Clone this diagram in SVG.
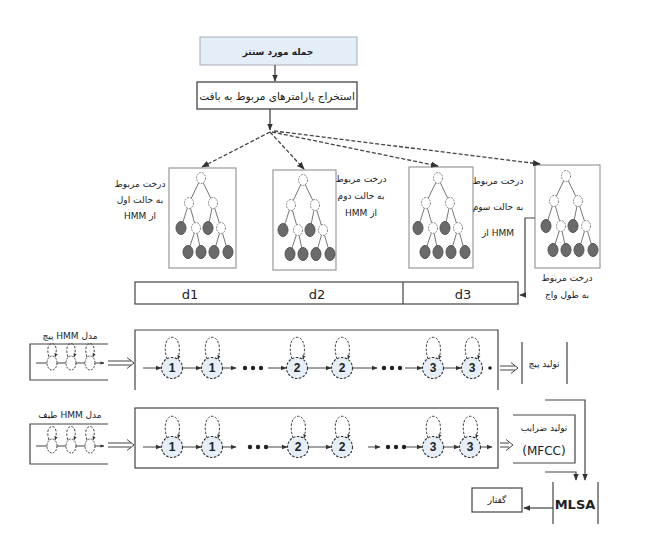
<svg xmlns="http://www.w3.org/2000/svg" xmlns:xlink="http://www.w3.org/1999/xlink" width="652" height="550" viewBox="0 0 652 550">
<style>
text{font-family:"DejaVu Sans","Noto Sans",sans-serif;fill:#222}
.fa{font-size:9px}
.ln{fill:none;stroke:#444;stroke-width:1.2}
.dash{fill:none;stroke:#444;stroke-width:1.3;stroke-dasharray:4,2}
.tbox{fill:#fff;stroke:#999;stroke-width:1.2}
.st{fill:#e6eff8;stroke:#333;stroke-width:1.1;stroke-dasharray:2.5,1.5}
.num{font-family:"Liberation Sans",Arial,sans-serif;font-size:12px;font-weight:bold;text-anchor:middle}
.loop{fill:none;stroke:#444;stroke-width:1;stroke-dasharray:2.5,1.5}
.dot{fill:#222}
.on{fill:#fff;stroke:#888;stroke-width:1;stroke-dasharray:2,1}
.off{fill:#6a6a6a;stroke:#555;stroke-width:1}
.edge{stroke:#777;stroke-width:1;fill:none}
</style>
<defs>
<marker id="ah" viewBox="0 0 10 10" refX="9" refY="5" markerWidth="6" markerHeight="6" orient="auto"><path d="M0,1 L10,5 L0,9 z" fill="#333"/></marker>
<marker id="ahs" viewBox="0 0 10 10" refX="9" refY="5" markerWidth="4" markerHeight="4" orient="auto"><path d="M0,1 L10,5 L0,9 z" fill="#333"/></marker>
<g id="tree">
<path class="edge" d="M32,10 L20,35 M32,10 L44,35 M20,35 L12,60 M20,35 L27,60 M44,35 L39,60 M44,35 L52,60 M27,60 L19,84 M27,60 L32,84 M52,60 L45,84 M52,60 L59,84"/>
<ellipse class="on" cx="32" cy="10" rx="4.5" ry="5.5"/>
<ellipse class="on" cx="20" cy="35" rx="4.5" ry="5.5"/>
<ellipse class="on" cx="44" cy="35" rx="4.5" ry="5.5"/>
<ellipse class="off" cx="12" cy="60" rx="5" ry="6.5"/>
<ellipse class="on" cx="27" cy="60" rx="4.5" ry="5.5"/>
<ellipse class="off" cx="39" cy="60" rx="5" ry="6.5"/>
<ellipse class="on" cx="52" cy="60" rx="4.5" ry="5.5"/>
<ellipse class="off" cx="19" cy="84" rx="5" ry="6.5"/>
<ellipse class="off" cx="32" cy="84" rx="5" ry="6.5"/>
<ellipse class="off" cx="45" cy="84" rx="5" ry="6.5"/>
<ellipse class="off" cx="59" cy="84" rx="5" ry="6.5"/>
</g>
<path id="lp" class="loop" d="M-5,-9 C-14,-38 14,-38 6,-9" marker-end="url(#ahs)"/>
<g id="mini">
<path class="loop" d="M-3,-6 C-9,-24 9,-24 3,-6" marker-end="url(#ahs)"/>
<ellipse cx="0" cy="0" rx="5" ry="7" fill="#fff" stroke="#444" stroke-width="1" stroke-dasharray="2,1.2"/>
</g>
</defs>

<g id="sentence">
<rect x="200" y="37" width="157" height="28" fill="#e4eef8" stroke="#aab" stroke-width="1"/>
<text x="278" y="55" class="fa" font-weight="bold" text-anchor="middle" direction="rtl">جمله مورد سنتز</text>
</g>
<g id="extract">
<rect x="197" y="82" width="160" height="27" fill="#fff" stroke="#444" stroke-width="1.3"/>
<text x="277" y="100" font-size="10.5" text-anchor="middle" direction="rtl">استخراج پارامترهای مربوط به بافت</text>
</g>

<g id="tree1">
<rect class="tbox" x="169" y="168" width="67" height="100"/>
<use href="#tree" x="169" y="168"/>
<text class="fa" font-size="8" x="140" y="187" text-anchor="middle" direction="rtl">درخت مربوط</text>
<text class="fa" font-size="8" x="140" y="203" text-anchor="middle" direction="rtl">به حالت اول</text>
<text class="fa" font-size="8" x="140" y="219" text-anchor="middle" direction="rtl">از HMM</text>
</g>
<g id="tree2">
<rect class="tbox" x="273" y="170" width="63" height="100"/>
<use href="#tree" x="271" y="170"/>
<text class="fa" font-size="7.5" x="361" y="182" text-anchor="middle" direction="rtl">درخت مربوط</text>
<text class="fa" font-size="7.5" x="361" y="199" text-anchor="middle" direction="rtl">به حالت دوم</text>
<text class="fa" font-size="7.5" x="361" y="216" text-anchor="middle" direction="rtl">از HMM</text>
</g>
<g id="tree3">
<rect class="tbox" x="409" y="167" width="64" height="101"/>
<use href="#tree" x="406" y="168"/>
<text class="fa" font-size="8" x="498" y="184" text-anchor="middle" direction="rtl">درخت مربوط</text>
<text class="fa" font-size="8" x="498" y="210" text-anchor="middle" direction="rtl">به حالت سوم</text>
<text class="fa" font-size="8" x="498" y="236" text-anchor="middle">از HMM</text>
</g>
<g id="tree4">
<rect class="tbox" x="535" y="165" width="65" height="103"/>
<use href="#tree" x="534" y="166"/>
<text class="fa" font-size="8" x="567" y="281" text-anchor="middle" direction="rtl">درخت مربوط</text>
<text class="fa" font-size="8" x="567" y="298" text-anchor="middle" direction="rtl">به طول واج</text>
</g>

<g id="durbar">
<rect x="135" y="282" width="383" height="22" fill="#fff" stroke="#444" stroke-width="1.2"/>
<line x1="403" y1="282" x2="403" y2="304" stroke="#444" stroke-width="1.2"/>
<text x="190" y="299" font-family="Liberation Sans,Arial,sans-serif" font-size="13" text-anchor="middle">d1</text>
<text x="317" y="299" font-family="Liberation Sans,Arial,sans-serif" font-size="13" text-anchor="middle">d2</text>
<text x="463" y="299" font-family="Liberation Sans,Arial,sans-serif" font-size="13" text-anchor="middle">d3</text>
</g>

<g id="pitchmodel">
<text class="fa" x="70" y="339" text-anchor="middle" direction="rtl">مدل HMM پیچ</text>
<path class="ln" d="M108,344 H30 V380 H108"/>
<line x1="36" y1="363" x2="104" y2="363" stroke="#444" stroke-width="1" marker-end="url(#ahs)"/>
<use href="#mini" x="52" y="363"/><use href="#mini" x="71" y="363"/><use href="#mini" x="90" y="363"/>
</g>
<g id="specmodel">
<text class="fa" x="70" y="418" text-anchor="middle" direction="rtl">مدل HMM طیف</text>
<path class="ln" d="M108,424 H30 V464 H108"/>
<line x1="36" y1="446" x2="104" y2="446" stroke="#444" stroke-width="1" marker-end="url(#ahs)"/>
<use href="#mini" x="52" y="446"/><use href="#mini" x="71" y="446"/><use href="#mini" x="90" y="446"/>
</g>

<g id="pitchchain">
<path class="ln" d="M135,390 V330 H498 V390"/>
<g stroke="#444" stroke-width="1" marker-end="url(#ah)">
<line x1="143" y1="368" x2="161" y2="368"/><line x1="182" y1="368" x2="201" y2="368"/><line x1="222" y1="368" x2="236" y2="368"/>
<line x1="268" y1="368" x2="286" y2="368"/><line x1="307" y1="368" x2="331" y2="368"/><line x1="352" y1="368" x2="377" y2="368"/>
<line x1="405" y1="368" x2="422" y2="368"/><line x1="443" y1="368" x2="461" y2="368"/>
</g>
<circle class="dot" cx="245" cy="368" r="2.2"/><circle class="dot" cx="253" cy="368" r="2.2"/><circle class="dot" cx="261" cy="368" r="2.2"/>
<circle class="dot" cx="384" cy="368" r="2.2"/><circle class="dot" cx="392" cy="368" r="2.2"/><circle class="dot" cx="400" cy="368" r="2.2"/>
<circle class="dot" cx="490" cy="368" r="1.8"/>
<use href="#lp" x="172" y="368"/><use href="#lp" x="212" y="368"/><use href="#lp" x="297" y="368"/><use href="#lp" x="342" y="368"/><use href="#lp" x="433" y="368"/><use href="#lp" x="472" y="368"/>
<circle class="st" cx="172" cy="368" r="10.5"/><circle class="st" cx="212" cy="368" r="10.5"/><circle class="st" cx="297" cy="368" r="10.5"/><circle class="st" cx="342" cy="368" r="10.5"/><circle class="st" cx="433" cy="368" r="10.5"/><circle class="st" cx="472" cy="368" r="10.5"/>
<text class="num" x="172" y="372">1</text><text class="num" x="212" y="372">1</text><text class="num" x="297" y="372">2</text><text class="num" x="342" y="372">2</text><text class="num" x="433" y="372">3</text><text class="num" x="472" y="372">3</text>
</g>

<g id="specchain">
<rect x="135" y="408" width="363" height="60" fill="none" stroke="#444" stroke-width="1.2"/>
<g stroke="#444" stroke-width="1" marker-end="url(#ah)">
<line x1="143" y1="447" x2="161" y2="447"/><line x1="182" y1="447" x2="201" y2="447"/><line x1="222" y1="447" x2="236" y2="447"/>
<line x1="268" y1="447" x2="287" y2="447"/><line x1="308" y1="447" x2="331" y2="447"/><line x1="368" y1="447" x2="380" y2="447"/>
<line x1="405" y1="447" x2="422" y2="447"/><line x1="443" y1="447" x2="459" y2="447"/><line x1="480" y1="447" x2="492" y2="447"/>
</g>
<circle class="dot" cx="250" cy="447" r="2.2"/><circle class="dot" cx="258" cy="447" r="2.2"/><circle class="dot" cx="266" cy="447" r="2.2"/>
<circle class="dot" cx="388" cy="447" r="2.2"/><circle class="dot" cx="396" cy="447" r="2.2"/><circle class="dot" cx="404" cy="447" r="2.2"/>
<use href="#lp" x="172" y="447"/><use href="#lp" x="212" y="447"/><use href="#lp" x="298" y="447"/><use href="#lp" x="342" y="447"/><use href="#lp" x="433" y="447"/><use href="#lp" x="470" y="447"/>
<circle class="st" cx="172" cy="447" r="10.5"/><circle class="st" cx="212" cy="447" r="10.5"/><circle class="st" cx="298" cy="447" r="10.5"/><circle class="st" cx="342" cy="447" r="10.5"/><circle class="st" cx="433" cy="447" r="10.5"/><circle class="st" cx="470" cy="447" r="10.5"/>
<text class="num" x="172" y="451">1</text><text class="num" x="212" y="451">1</text><text class="num" x="298" y="451">2</text><text class="num" x="342" y="451">2</text><text class="num" x="433" y="451">3</text><text class="num" x="470" y="451">3</text>
</g>

<g id="pitchgen">
<path class="ln" d="M522,342 V384 M567,342 V384"/>
<text class="fa" x="544" y="367" text-anchor="middle" direction="rtl">تولید پیچ</text>
</g>
<g id="mfcc">
<path class="ln" d="M513,415 H575 V463 H513"/>
<text class="fa" x="544" y="431" text-anchor="middle" direction="rtl">تولید ضرایب</text>
<text x="544" y="455" font-family="Liberation Sans,Arial,sans-serif" font-size="12" text-anchor="middle">(MFCC)</text>
</g>
<g id="mlsa">
<path class="ln" d="M553,482 V524 M598,482 V524"/>
<text x="575" y="509" font-family="Liberation Sans,Arial,sans-serif" font-size="13" font-weight="bold" text-anchor="middle">MLSA</text>
</g>
<g id="speech">
<rect x="472" y="488" width="50" height="24" fill="#fff" stroke="#444" stroke-width="1.2"/>
<text class="fa" x="497" y="503" text-anchor="middle">گفتار</text>
</g>

<g id="connectors">
<line x1="275" y1="65" x2="275" y2="81" stroke="#333" stroke-width="1.2" marker-end="url(#ah)"/>
<line x1="270" y1="109" x2="270" y2="130" stroke="#333" stroke-width="1.2" marker-end="url(#ah)"/>
<line class="dash" x1="270" y1="132" x2="202" y2="167" marker-end="url(#ah)"/>
<line class="dash" x1="270" y1="132" x2="304" y2="169" marker-end="url(#ah)"/>
<line class="dash" x1="272" y1="132" x2="438" y2="166" marker-end="url(#ah)"/>
<line class="dash" x1="274" y1="131" x2="540" y2="164" marker-end="url(#ah)"/>
<path class="ln" d="M535,218 H525 V295 H520" marker-end="url(#ah)"/>
<g stroke="#444" stroke-width="1" fill="none">
<path d="M108,361 H131 M108,365 H131 M127,357.5 L134,363 L127,368.5"/>
<path d="M500,366 H515 M500,370 H515 M511,362.5 L518,368 L511,373.5"/>
<path d="M108,443 H131 M108,447 H131 M127,439.5 L134,445 L127,450.5"/>
<path d="M500,443 H509 M500,447 H509 M506,439.5 L513,445 L506,450.5"/>
</g>
<path class="ln" d="M545,400 H585 V480" marker-end="url(#ah)"/>
<path class="ln" d="M545,472 H576 V480" marker-end="url(#ah)"/>
<line x1="553" y1="508" x2="524" y2="508" stroke="#444" stroke-width="1.2" marker-end="url(#ah)"/>
</g>
</svg>
